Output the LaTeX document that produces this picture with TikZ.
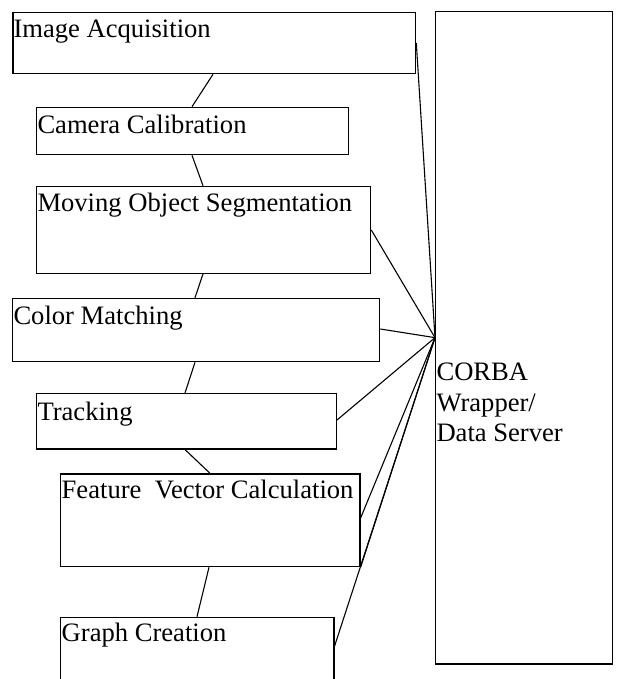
\documentclass[tikz,border=0pt]{standalone}
\usepackage{fontspec}
\setmainfont{Liberation Serif}
\begin{document}
\begin{tikzpicture}[x=1pt,y=-1pt,
  box/.style={draw,line width=1.3pt,rectangle,inner sep=0pt,anchor=north west},
  lbl/.style={anchor=base west,inner sep=0pt,font=\fontsize{26.6}{31}\selectfont},
  conn/.style={line width=1.1pt}]
\useasboundingbox (0,0) rectangle (618,679);
\clip (0,0) rectangle (618,679);
% boxes
\node[box,minimum width=402.7pt,minimum height=61.3pt] (ia) at (12.3,11.7) {};
\node[box,minimum width=312.3pt,minimum height=47.3pt] (cc) at (35.7,106.7) {};
\node[box,minimum width=334.3pt,minimum height=87pt] (mos) at (35.7,185.7) {};
\node[box,minimum width=367.3pt,minimum height=63.3pt] (cm) at (11.7,297.7) {};
\node[box,minimum width=300pt,minimum height=55.3pt] (tr) at (35.7,393) {};
\node[box,minimum width=299.3pt,minimum height=92.7pt] (fvc) at (60,473.3) {};
\node[box,minimum width=273.3pt,minimum height=90pt] (gc) at (60,616.7) {};
\node[box,minimum width=176.7pt,minimum height=652.6pt] (corba) at (435,10.7) {};
% labels
\node[lbl] (tia) at (13.3,38) {Image Acquisition};
\node[lbl] (tcc) at (37.3,133.3) {Camera Calibration};
\node[lbl] (tmos) at (37.3,211.7) {Moving Object Segmentation};
\node[lbl] (tcm) at (13.3,324) {Color Matching};
\node[lbl] (ttr) at (37.3,420) {Tracking};
\node[lbl] (tfvc) at (61.5,498.3) {Feature\hspace{0.5em}Vector Calculation};
\node[lbl] (tgc) at (61.5,641.7) {Graph Creation};
\node[lbl] (tc1) at (436.3,380) {CORBA};
\node[lbl] (tc2) at (436.3,411) {Wrapper/};
\node[lbl] (tc3) at (436.3,441.7) {Data Server};
% hub
\coordinate (hub) at (corba.west);
% chain connectors
\draw[conn] ([xshift=200.7pt]ia.south west) -- ([xshift=156.3pt]cc.north west);
\draw[conn] ([xshift=156.3pt]cc.south west) -- ([xshift=167.3pt]mos.north west);
\draw[conn] ([xshift=167.3pt]mos.south west) -- ([xshift=183.3pt]cm.north west);
\draw[conn] ([xshift=183.3pt]cm.south west) -- ([xshift=149.3pt]tr.north west);
\draw[conn] ([xshift=149.3pt]tr.south west) -- ([xshift=150pt]fvc.north west);
\draw[conn] ([xshift=149pt]fvc.south west) -- ([xshift=137pt]gc.north west);
% connectors to the server
\draw[conn] ([yshift=-31.3pt]ia.north east) -- (hub);
\draw[conn] ([yshift=-44.3pt]mos.north east) -- (hub);
\draw[conn] ([yshift=-31.3pt]cm.north east) -- (hub);
\draw[conn] ([yshift=-27pt]tr.north east) -- (hub);
\draw[conn] ([yshift=-44.7pt]fvc.north east) -- (hub);
\draw[conn] (fvc.south east) -- (hub);
\draw[conn] ([yshift=-29.3pt]gc.north east) -- (hub);
\end{tikzpicture}
\end{document}
